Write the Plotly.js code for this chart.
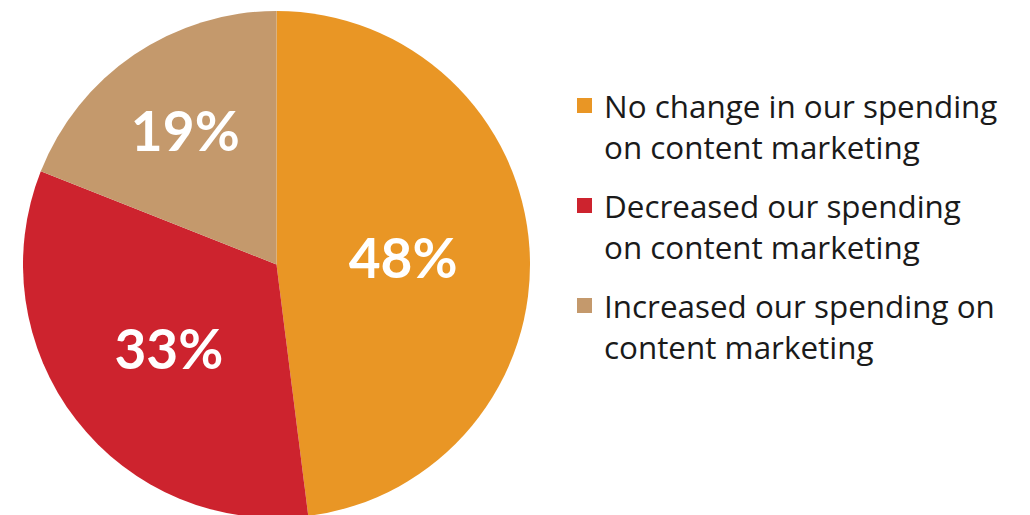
<!DOCTYPE html>
<html>
<head>
<meta charset="utf-8">
<script src="https://cdn.plot.ly/plotly-3.0.1.min.js"></script>
<style>html,body{margin:0;padding:0;overflow:hidden;background:#fff;}#chart{width:1030px;height:520px;}</style>
</head>
<body>
<div id="chart"></div>
<script>
const labels = [
  "No change in our spending<br>on content marketing",
  "Decreased our spending<br>on content marketing",
  "Increased our spending on<br>content marketing"
];
const values = [48, 33, 19];
const colors = ["#E99625", "#CD232E", "#C4996C"];

const W = 1030, H = 520, ML = 23, MR = 0, MT = 11, MB = 2;
const PW = W - ML - MR, PH = H - MT - MB;
const px = x => (x - ML) / PW;
const py = y => (H - MB - y) / PH;

const annotations = [];
const shapes = [];
labels.forEach((lab, i) => {
  const top = 105.5 + i * 100;
  shapes.push({
    type: "rect", xref: "paper", yref: "paper",
    x0: px(577), x1: px(592), y0: py(top - 7.5), y1: py(top + 7.5),
    fillcolor: colors[i], line: {width: 0}
  });
  annotations.push({
    xref: "paper", yref: "paper", x: px(602), y: py(top + 20),
    xanchor: "left", yanchor: "middle", align: "left", showarrow: false,
    text: lab, font: {family: "Open Sans", size: 31.4, color: "#1a1a1a"}
  });
});

const data = [{
  type: "pie",
  labels: labels,
  values: values,
  marker: {colors: colors, line: {width: 0}},
  sort: false,
  direction: "clockwise",
  rotation: 0,
  texttemplate: "%{value}%",
  textposition: "inside",
  insidetextorientation: "horizontal",
  insidetextfont: {family: "Lato", size: 55, color: "#ffffff", weight: "bold"},
  hoverinfo: "label+percent",
  domain: {x: [0, 507 / PW], y: [0, 1]},
  showlegend: false
}];

const layout = {
  width: W, height: H,
  margin: {l: ML, r: MR, t: MT, b: MB},
  paper_bgcolor: "#ffffff",
  showlegend: false,
  annotations: annotations,
  shapes: shapes
};

Plotly.newPlot("chart", data, layout, {displayModeBar: false, staticPlot: true});
</script>
</body>
</html>
